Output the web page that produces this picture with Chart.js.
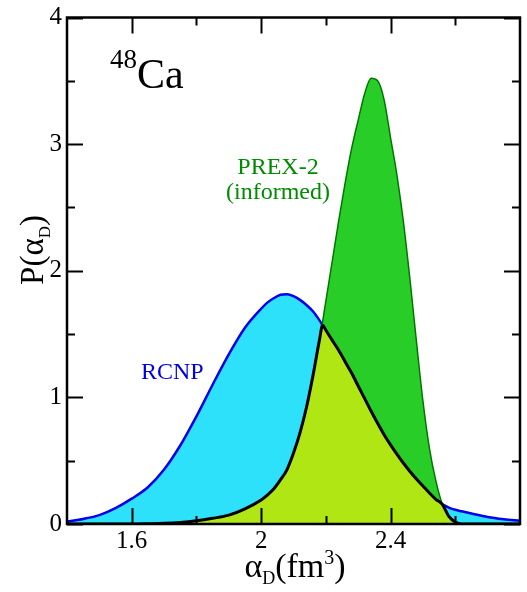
<!DOCTYPE html>
<html>
<head>
<meta charset="utf-8">
<script src="https://cdn.jsdelivr.net/npm/chart.js@4"></script>
<style>
  html, body { margin: 0; padding: 0; background: #fff; }
</style>
</head>
<body>
<canvas id="pdfChart" width="527" height="592"></canvas>
<script>
// alpha_D grid (fm^3)
const alphaGrid = [1.40, 1.45, 1.50, 1.55, 1.60, 1.65, 1.70, 1.75, 1.80, 1.85, 1.90, 1.95,
  2.00, 2.02, 2.04, 2.06, 2.08, 2.10, 2.12, 2.14, 2.16, 2.18, 2.19, 2.20, 2.22, 2.24, 2.26,
  2.28, 2.30, 2.32, 2.34, 2.36, 2.38, 2.40, 2.42, 2.44, 2.46, 2.48, 2.50, 2.52, 2.54, 2.56,
  2.58, 2.60, 2.62, 2.65, 2.70, 2.75, 2.80];

// RCNP distribution
const rcnp = [0.02, 0.04, 0.07, 0.125, 0.20, 0.29, 0.43, 0.62, 0.85, 1.10, 1.34, 1.55,
  1.70, 1.75, 1.785, 1.81, 1.815, 1.80, 1.77, 1.73, 1.68, 1.61, 1.57, 1.53, 1.45, 1.37, 1.28,
  1.19, 1.09, 0.99, 0.89, 0.795, 0.705, 0.625, 0.55, 0.48, 0.415, 0.355, 0.30, 0.245, 0.195, 0.155,
  0.13, 0.112, 0.10, 0.083, 0.056, 0.038, 0.025];

// PREX-2 (informed) distribution
const prex = [0, 0, 0, 0, 0, 0.002, 0.005, 0.012, 0.025, 0.045, 0.07, 0.12,
  0.19, 0.23, 0.28, 0.35, 0.43, 0.56, 0.72, 0.92, 1.17, 1.45, 1.60, 1.76, 2.08, 2.40, 2.70,
  2.97, 3.19, 3.40, 3.52, 3.50, 3.35, 3.05, 2.75, 2.38, 1.93, 1.44, 0.97, 0.60, 0.34, 0.155,
  0.06, 0.015, 0, 0, 0, 0, 0];

// overlap of the two (black curve)
const overlap = [0, 0, 0, 0, 0, 0.002, 0.005, 0.012, 0.025, 0.045, 0.07, 0.12,
  0.19, 0.23, 0.28, 0.35, 0.43, 0.56, 0.72, 0.92, 1.17, 1.45, 1.57, 1.53, 1.45, 1.37, 1.28,
  1.19, 1.09, 0.99, 0.89, 0.795, 0.705, 0.625, 0.55, 0.48, 0.415, 0.355, 0.30, 0.245, 0.195, 0.155,
  0.06, 0.015, 0, 0, 0, 0, 0];

const xTicks = [1.6, 2.0, 2.4];
const xTickLabels = ['1.6', '2', '2.4'];
const xMinorTicks = [1.8, 2.2, 2.6];
const yTicks = [0, 1, 2, 3, 4];
const yTickLabels = ['0', '1', '2', '3', '4'];
const yMinorTicks = [0.5, 1.5, 2.5, 3.5];

const serif = "'Liberation Serif'";
const toPoints = ys => alphaGrid.map((x, i) => ({ x: x, y: ys[i] }));

// draws a run of text pieces (for sub/superscripts)
function drawRuns(ctx, runs, x, y, align) {
  let total = 0;
  runs.forEach(r => {
    ctx.font = r.size + 'px ' + serif;
    r.w = ctx.measureText(r.t).width;
    total += r.w;
  });
  let cx = align === 'center' ? x - total / 2 : x;
  runs.forEach(r => {
    ctx.font = r.size + 'px ' + serif;
    ctx.fillText(r.t, cx, y + (r.dy || 0));
    cx += r.w;
  });
}

const framePlugin = {
  id: 'framePlugin',
  afterDraw(chart) {
    const ctx = chart.ctx;
    const a = chart.chartArea;
    const xs = chart.scales.x;
    const ys = chart.scales.y;
    ctx.save();
    ctx.strokeStyle = '#000';
    ctx.lineWidth = 2;
    // inward ticks on all four sides
    const tick = (vals, len) => {
      vals.forEach(v => {
        const px = Math.round(xs.getPixelForValue(v)) + 0.5;
        ctx.beginPath();
        ctx.moveTo(px, a.bottom); ctx.lineTo(px, a.bottom - len);
        ctx.moveTo(px, a.top); ctx.lineTo(px, a.top + len);
        ctx.stroke();
      });
    };
    const ytick = (vals, len) => {
      vals.forEach(v => {
        const py = Math.round(ys.getPixelForValue(v)) + 0.5;
        ctx.beginPath();
        ctx.moveTo(a.left, py); ctx.lineTo(a.left + len, py);
        ctx.moveTo(a.right, py); ctx.lineTo(a.right - len, py);
        ctx.stroke();
      });
    };
    tick(xTicks, 16);
    tick(xMinorTicks, 8);
    ytick(yTicks, 16);
    ytick(yMinorTicks, 8);
    ctx.lineWidth = 2.5;
    ctx.strokeRect(a.left, a.top, a.right - a.left, a.bottom - a.top);

    ctx.fillStyle = '#000';
    ctx.textBaseline = 'alphabetic';
    // 48Ca label
    drawRuns(ctx, [{ t: '48', size: 27, dy: -20 }, { t: 'Ca', size: 42 }], 110, 88, 'left');
    // series labels
    ctx.fillStyle = 'rgb(0,140,0)';
    drawRuns(ctx, [{ t: 'PREX-2', size: 24 }], 278, 174, 'center');
    drawRuns(ctx, [{ t: '(informed)', size: 24 }], 278, 199, 'center');
    ctx.fillStyle = 'rgb(0,0,230)';
    drawRuns(ctx, [{ t: 'RCNP', size: 24 }], 141, 379, 'left');

    // axis titles
    ctx.fillStyle = '#000';
    drawRuns(ctx, [{ t: 'α', size: 34 }, { t: 'D', size: 18, dy: 7 },
      { t: '(fm', size: 34 }, { t: '3', size: 20, dy: -13 }, { t: ')', size: 34 }], 295, 577, 'center');
    ctx.translate(43, 250);
    ctx.rotate(-Math.PI / 2);
    drawRuns(ctx, [{ t: 'P(α', size: 33 }, { t: 'D', size: 17, dy: 7 }, { t: ')', size: 33 }], 0, 0, 'center');
    ctx.restore();
  }
};

function drawChart() {
  const ctx = document.getElementById('pdfChart').getContext('2d');
  new Chart(ctx, {
    type: 'line',
    data: {
      datasets: [
        {
          label: 'RCNP',
          data: toPoints(rcnp),
          borderColor: 'rgb(0,0,235)',
          borderWidth: 2.5,
          backgroundColor: 'rgb(45,225,250)',
          fill: 'origin',
          pointRadius: 0,
          cubicInterpolationMode: 'monotone',
          order: 3
        },
        {
          label: 'PREX-2 (informed)',
          data: toPoints(prex),
          borderColor: 'rgb(0,120,0)',
          borderWidth: 1.5,
          backgroundColor: 'rgb(40,205,40)',
          fill: 'origin',
          pointRadius: 0,
          cubicInterpolationMode: 'monotone',
          order: 2
        },
        {
          label: 'overlap',
          data: toPoints(overlap),
          borderColor: '#000',
          borderWidth: 3,
          backgroundColor: 'rgb(175,230,20)',
          fill: 'origin',
          pointRadius: 0,
          cubicInterpolationMode: 'monotone',
          order: 1
        }
      ]
    },
    options: {
      responsive: false,
      animation: false,
      layout: { padding: { top: 13, right: 7, left: 0, bottom: 0 } },
      plugins: { legend: { display: false }, tooltip: { enabled: false } },
      scales: {
        x: {
          type: 'linear',
          min: 1.4,
          max: 2.8,
          grid: { display: false, drawTicks: false },
          border: { display: false },
          afterBuildTicks: s => { s.ticks = xTicks.map(v => ({ value: v })); },
          afterFit: s => { s.height = 68; },
          ticks: {
            color: '#000',
            padding: 5,
            maxRotation: 0,
            font: { family: serif, size: 25, lineHeight: 1 },
            callback: (v, i) => xTickLabels[i]
          }
        },
        y: {
          type: 'linear',
          min: 0,
          max: 4,
          grid: { display: false, drawTicks: false },
          border: { display: false },
          afterBuildTicks: s => { s.ticks = yTicks.map(v => ({ value: v })); },
          afterFit: s => { s.width = 67; },
          ticks: {
            color: '#000',
            padding: 5,
            font: { family: serif, size: 25, lineHeight: 1 },
            callback: (v, i) => yTickLabels[i]
          }
        }
      }
    },
    plugins: [framePlugin]
  });
}

document.fonts.load("25px 'Liberation Serif'").then(drawChart, drawChart);
</script>
</body>
</html>
